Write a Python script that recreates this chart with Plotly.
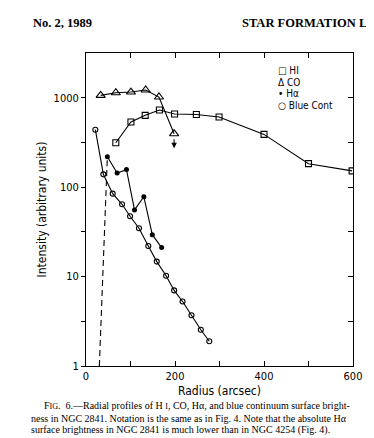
import plotly.graph_objects as go
import math

# ---- data ----
hi_r = [67, 101, 133, 165, 199, 248, 299, 400, 500, 598]
hi_I = [314, 535, 635, 728, 657, 650, 608, 389, 183, 152]

co_r = [33, 67, 101, 134, 164, 198]
co_I = [1061, 1137, 1157, 1219, 1018, 396]
co_limit_to = 272  # arrow (upper limit) end value for last CO point

ha_r = [48, 70, 91, 109, 130, 149, 170]
ha_I = [219, 144, 157, 55.6, 78, 29.4, 21.1]

bc_r = [21, 39, 60, 81, 99, 119, 140, 159, 180, 198, 217, 237, 258, 277]
bc_I = [439, 139, 84.6, 64.3, 47.2, 34.7, 22, 14.7, 10.2, 7.0, 5.26, 3.7, 2.54, 1.89]

dash_r = [30, 48]
dash_I = [1, 219]

x_ticks = [0, 100, 200, 300, 400, 500, 600]
x_labels = ["0", "", "200", "", "400", "", "600"]
y_ticks = [1, 3.16, 10, 31.6, 100, 316, 1000]
y_labels = ["1", "", "10", "", "100", "", "1000"]

legend_items = ["□ HI", "Δ CO", "• Hα", "○ Blue Cont"]

# ---- figure ----
W, H = 374, 438
L, R, T, B = 78, 29, 45, 80
pw, ph = W - L - R, H - T - B

def px(xp):
    return (xp - L) / pw

def py(yp):
    return (H - B - yp) / ph

ln = dict(color="black", width=1.1)
fig = go.Figure()

fig.add_trace(go.Scatter(x=dash_r, y=dash_I, mode="lines",
                         line=dict(color="black", width=1.1, dash="6px,4px")))
fig.add_trace(go.Scatter(x=hi_r, y=hi_I, mode="lines+markers", line=ln,
                         marker=dict(symbol="square-open", size=6, color="black",
                                     line=dict(width=1.1))))
fig.add_trace(go.Scatter(x=co_r, y=co_I, mode="lines+markers", line=ln,
                         marker=dict(symbol="triangle-up-open", size=8, color="black",
                                     line=dict(width=1.1))))
fig.add_trace(go.Scatter(x=ha_r, y=ha_I, mode="lines+markers", line=ln,
                         marker=dict(symbol="circle", size=5, color="black")))
fig.add_trace(go.Scatter(x=bc_r, y=bc_I, mode="lines+markers", line=ln,
                         marker=dict(symbol="circle-open", size=5, color="black",
                                     line=dict(width=1.1))))
# dummy trace to activate the mirror axes
fig.add_trace(go.Scatter(x=[None], y=[None], xaxis="x2", yaxis="y2",
                         hoverinfo="skip"))

# upper-limit arrow on last CO point
fig.add_annotation(x=co_r[-1], y=math.log10(co_limit_to),
                   ax=co_r[-1], ay=math.log10(co_I[-1]),
                   xref="x", yref="y", axref="x", ayref="y",
                   showarrow=True, arrowhead=2, arrowsize=1, arrowwidth=1.1,
                   startstandoff=4,
                   arrowcolor="black", text="")

tickfont = dict(family="DejaVu Sans Condensed, DejaVu Sans", size=11, color="black")
common = dict(showgrid=False, zeroline=False, showline=True, linecolor="black",
              linewidth=1, tickcolor="black", tickwidth=1)

fig.update_layout(
    width=W, height=H, margin=dict(l=L, r=R, t=T, b=B),
    paper_bgcolor="white", plot_bgcolor="white", showlegend=False,
    xaxis=dict(range=[0, 600], tickvals=x_ticks, ticktext=x_labels,
               ticks="inside", ticklen=5, tickfont=tickfont,
               title=dict(text="Radius (arcsec)", font=dict(family="DejaVu Sans Condensed, DejaVu Sans", size=12, color="black"), standoff=4),
               **common),
    yaxis=dict(type="log", range=[0, 3.5], tickvals=y_ticks, ticktext=y_labels,
               ticks="outside", ticklen=4, tickfont=tickfont,
               title=dict(text="Intensity (arbitrary units)", font=dict(family="DejaVu Sans Condensed, DejaVu Sans", size=12, color="black"), standoff=4),
               **common),
    xaxis2=dict(range=[0, 600], overlaying="x", side="top", anchor="y2",
                tickvals=x_ticks, ticks="inside", ticklen=5, showticklabels=False,
                **common),
    yaxis2=dict(type="log", range=[0, 3.5], overlaying="y", side="right", anchor="x2",
                tickvals=y_ticks, ticks="inside", ticklen=5, showticklabels=False,
                **common),
)

# legend as text
leg_y = [63, 74, 85, 97]
for t, yy in zip(legend_items, leg_y):
    fig.add_annotation(x=px(268), y=py(yy), xref="paper", yref="paper",
                       text=t, showarrow=False, xanchor="left", yanchor="middle",
                       font=dict(family="DejaVu Sans Condensed, DejaVu Sans", size=10, color="black"))

# header
hfont = dict(family="Liberation Serif, Times New Roman, serif", size=12.5, color="black")
fig.add_annotation(x=px(23), y=py(15), xref="paper", yref="paper", text="<b>No. 2, 1989</b>",
                   showarrow=False, xanchor="left", yanchor="middle", font=hfont)
fig.add_annotation(x=px(232), y=py(15), xref="paper", yref="paper", text="<b>STAR FORMATION L</b>",
                   showarrow=False, xanchor="left", yanchor="middle", font=hfont)

# caption
cfont = dict(family="Liberation Serif, Times New Roman, serif", size=10, color="black")
caption = [
    (34, 398, "F<span style='font-size:8px'>IG</span>.  6.—Radial profiles of H <span style='font-size:8px'>I</span>, CO, Hα, and blue continuum surface bright-"),
    (21, 410, "ness in NGC 2841. Notation is the same as in Fig. 4. Note that the absolute Hα"),
    (21, 422, "surface brightness in NGC 2841 is much lower than in NGC 4254 (Fig. 4)."),
]
for xx, yy, t in caption:
    fig.add_annotation(x=px(xx), y=py(yy), xref="paper", yref="paper", text=t,
                       showarrow=False, xanchor="left", yanchor="middle", font=cfont)

fig.write_html("out.html")
